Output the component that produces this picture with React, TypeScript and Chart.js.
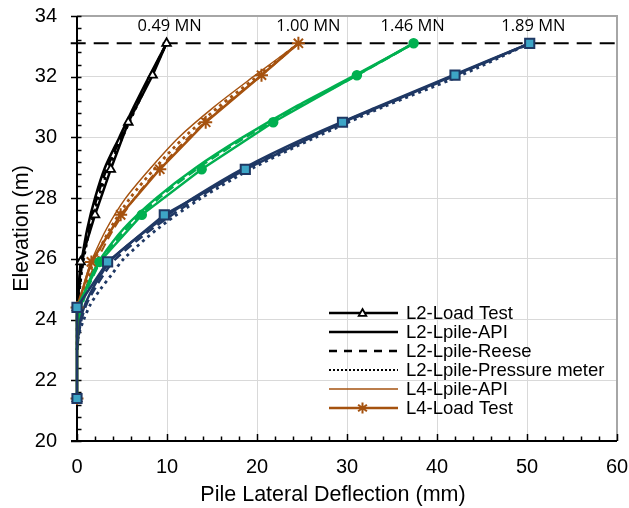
import React, { useEffect, useRef } from 'react';
import { Chart, registerables } from 'chart.js';

Chart.register(...registerables);

// ---------- data ----------
const LT_ELEV = [33.1, 32.05, 30.5, 28.95, 27.45, 25.9, 24.4, 21.4];
const L2_TEST = [9.95, 8.4, 5.7, 3.75, 2.0, 0.4, 0, 0];
const L4_TEST = [24.6, 20.5, 14.3, 9.2, 4.85, 1.6, 0, 0];
const G_TEST = [37.4, 31.1, 21.8, 13.85, 7.2, 2.5, 0, 0];
const N_TEST = [50.3, 42.0, 29.5, 18.7, 9.7, 3.4, 0, 0];

const LPILE_ELEV = [33.1, 32, 31, 30, 29, 28, 27, 26, 25.5, 25, 24.5, 24, 23.5, 23];
const L2_API = [9.95, 8.0, 6.3, 4.7, 3.1, 2.0, 1.15, 0.55, 0.35, 0.2, 0.08, 0, 0, 0];
const L2_REESE = [9.95, 8.1, 6.45, 4.9, 3.35, 2.2, 1.3, 0.65, 0.42, 0.24, 0.1, 0, 0, 0];
const L2_PM = [9.95, 8.2, 6.6, 5.05, 3.55, 2.4, 1.45, 0.75, 0.5, 0.3, 0.12, 0.02, 0, 0];
const L4_API = [24.6, 19.6, 15.2, 11.3, 8.2, 5.4, 3.3, 1.7, 1.1, 0.65, 0.3, 0.1, 0, 0];
const L4_REESE = [24.6, 20.3, 16.1, 12.4, 9.2, 6.4, 4.1, 2.3, 1.55, 0.95, 0.5, 0.2, 0.05, 0];
const L4_PM = [24.6, 20.0, 15.7, 11.9, 8.7, 5.9, 3.7, 2.0, 1.35, 0.8, 0.4, 0.15, 0.02, 0];
const G_API = [37.4, 30.6, 24.2, 18.4, 13.2, 8.8, 5.2, 2.6, 1.7, 1.0, 0.5, 0.2, 0.05, 0];
const G_REESE = [37.4, 30.8, 24.5, 18.7, 13.5, 9.1, 5.5, 2.8, 1.9, 1.15, 0.6, 0.25, 0.08, 0];
const N_API = [50.3, 41.4, 33.3, 25.5, 18.6, 12.9, 8.0, 3.9, 2.7, 1.7, 0.9, 0.4, 0.15, 0];
const N_REESE = [50.3, 41.7, 33.7, 25.9, 19.0, 13.4, 8.4, 4.3, 3.0, 1.95, 1.05, 0.5, 0.2, 0];
const N_PM = [50.3, 42.3, 34.0, 26.5, 19.6, 13.8, 9.0, 5.2, 3.9, 2.6, 1.5, 0.75, 0.2, 0];

const LOAD_ELEV = 33.1;
const LOAD_LINE_X = [-0.7, 60];
const LOAD_LABELS = ['0.49 MN', '1.00 MN', '1.46 MN', '1.89 MN'];
const LOAD_LABEL_X = [10.3, 25.7, 37.3, 50.7];
const LOAD_LABEL_Y = 33.65;

const X_TITLE = 'Pile Lateral Deflection (mm)';
const Y_TITLE = 'Elevation (m)';
const X_TICKS = { min: 0, max: 60, step: 10, minor: 2 };
const Y_TICKS = { min: 20, max: 34, step: 2, minor: 0.4 };

const LEGEND_ITEMS = [
  'L2-Load Test',
  'L2-Lpile-API',
  'L2-Lpile-Reese',
  'L2-Lpile-Pressure meter',
  'L4-Lpile-API',
  'L4-Load Test',
];

// ---------- styles ----------
const BLACK = '#000000';
const BROWN = '#A5520F';
const GREEN = '#00B050';
const NAVY = '#1F3864';
const SQUARE_FILL = '#3DA5C6';

const testPts = (xs: number[]) => xs.map((x, i) => ({ x, y: LT_ELEV[i] }));
const curvePts = (xs: number[]) => {
  const out: { x: number; y: number }[] = [];
  for (let i = 0; i < xs.length; i++) {
    out.push({ x: xs[i], y: LPILE_ELEV[i] });
    if (xs[i] === 0) break;
  }
  return out;
};

const lpile = (label: string, xs: number[], color: string, dash: number[], width: number, order: number) => ({
  label,
  data: curvePts(xs),
  borderColor: color,
  backgroundColor: color,
  borderWidth: width,
  borderDash: dash,
  pointRadius: 0,
  showLine: true,
  tension: 0.3,
  clip: false as any,
  order,
});

const DOT = [3, 4];
const DASH = [9, 5];

const datasets: any[] = [
  {
    label: 'L8-Load Test', data: testPts(N_TEST), borderColor: NAVY, backgroundColor: SQUARE_FILL,
    borderWidth: 2.5, pointStyle: 'rect', pointRadius: 6.5, pointBorderColor: NAVY, pointBorderWidth: 2,
    pointBackgroundColor: SQUARE_FILL, showLine: true, tension: 0, clip: false, order: 1,
  },
  {
    label: 'L6-Load Test', data: testPts(G_TEST), borderColor: GREEN, backgroundColor: GREEN,
    borderWidth: 2.5, pointStyle: 'circle', pointRadius: 4.5, pointBorderColor: GREEN, pointBorderWidth: 1.5,
    pointBackgroundColor: GREEN, showLine: true, tension: 0, clip: false, order: 2,
  },
  {
    label: 'L4-Load Test', data: testPts(L4_TEST), borderColor: BROWN, backgroundColor: BROWN,
    borderWidth: 2.5, pointStyle: 'star', pointRadius: 6.5, pointBorderColor: BROWN, pointBorderWidth: 2,
    showLine: true, tension: 0, clip: false, order: 3,
  },
  {
    label: 'L2-Load Test', data: testPts(L2_TEST), borderColor: BLACK, backgroundColor: '#ffffff',
    borderWidth: 2.5, pointStyle: 'triangle', pointRadius: 5, pointBorderColor: BLACK, pointBorderWidth: 1.8,
    pointBackgroundColor: '#ffffff', showLine: true, tension: 0, clip: false, order: 4,
  },
  lpile('L8-Lpile-API', N_API, NAVY, [], 2.5, 5),
  lpile('L8-Lpile-Reese', N_REESE, NAVY, DASH, 2.5, 5),
  lpile('L8-Lpile-Pressure meter', N_PM, NAVY, DOT, 2.8, 5),
  lpile('L6-Lpile-API', G_API, GREEN, [], 2.5, 6),
  lpile('L6-Lpile-Reese', G_REESE, GREEN, DASH, 2.5, 6),
  lpile('L4-Lpile-API', L4_API, BROWN, [], 1.5, 7),
  lpile('L4-Lpile-Reese', L4_REESE, BROWN, DASH, 2, 7),
  lpile('L4-Lpile-Pressure meter', L4_PM, BROWN, DOT, 2.8, 7),
  lpile('L2-Lpile-API', L2_API, BLACK, [], 2.5, 8),
  lpile('L2-Lpile-Reese', L2_REESE, BLACK, DASH, 2.5, 8),
  lpile('L2-Lpile-Pressure meter', L2_PM, BLACK, DOT, 2.5, 8),
  {
    label: 'Load level', data: LOAD_LINE_X.map((x) => ({ x, y: LOAD_ELEV })), borderColor: BLACK,
    borderWidth: 2, borderDash: [15, 8], pointRadius: 0, showLine: true, clip: false, order: 9,
  },
];

const LEGEND_STYLE: Record<string, { width: number; dash: number[] }> = {
  'L2-Load Test': { width: 2.5, dash: [] },
  'L2-Lpile-API': { width: 2.5, dash: [] },
  'L2-Lpile-Reese': { width: 2.5, dash: [8, 7] },
  'L2-Lpile-Pressure meter': { width: 2, dash: [2, 2] },
  'L4-Lpile-API': { width: 1.6, dash: [] },
  'L4-Load Test': { width: 2.5, dash: [] },
};

const decor = {
  id: 'decor',
  beforeDatasetsDraw(chart: any) {
    const { ctx, chartArea: a, scales } = chart;
    const xs = scales.x;
    const ys = scales.y;
    ctx.save();
    ctx.strokeStyle = '#A6A6A6';
    ctx.lineWidth = 2;
    ctx.beginPath();
    ctx.moveTo(a.left, a.top);
    ctx.lineTo(a.right, a.top);
    ctx.lineTo(a.right, a.bottom);
    ctx.stroke();
    ctx.strokeStyle = '#000';
    ctx.lineWidth = 2;
    ctx.beginPath();
    ctx.moveTo(a.left, a.top);
    ctx.lineTo(a.left, a.bottom);
    ctx.moveTo(a.left - 6, a.bottom);
    ctx.lineTo(a.right, a.bottom);
    ctx.stroke();
    ctx.lineWidth = 1.5;
    ctx.beginPath();
    for (let v = Y_TICKS.min; v <= Y_TICKS.max + 1e-6; v += Y_TICKS.minor) {
      const p = Math.round(ys.getPixelForValue(v)) + 0.5;
      const major = Math.abs(v / Y_TICKS.step - Math.round(v / Y_TICKS.step)) < 1e-6;
      ctx.moveTo(major ? a.left - 6 : a.left, p);
      ctx.lineTo(a.left + 4.5, p);
    }
    for (let v = X_TICKS.min; v <= X_TICKS.max + 1e-6; v += X_TICKS.minor) {
      const p = Math.round(xs.getPixelForValue(v)) + 0.5;
      const major = Math.abs(v / X_TICKS.step - Math.round(v / X_TICKS.step)) < 1e-6;
      ctx.moveTo(p, a.bottom);
      ctx.lineTo(p, a.bottom - (major ? 7 : 4.5));
    }
    ctx.stroke();
    ctx.restore();
  },
  afterDraw(chart: any) {
    const { ctx, scales, chartArea: a } = chart;
    ctx.save();
    ctx.fillStyle = '#000';
    ctx.textAlign = 'center';
    ctx.textBaseline = 'middle';
    // axis titles
    ctx.font = '21.5px "Liberation Sans"';
    ctx.fillText(X_TITLE, 333, 495);
    ctx.save();
    ctx.translate(22, (a.top + a.bottom) / 2);
    ctx.rotate(-Math.PI / 2);
    ctx.fillText(Y_TITLE, 0, 0);
    ctx.restore();
    // load labels
    ctx.font = '16.5px "Open Sans"';
    LOAD_LABELS.forEach((t, i) => {
      ctx.fillText(t, scales.x.getPixelForValue(LOAD_LABEL_X[i]), scales.y.getPixelForValue(LOAD_LABEL_Y));
    });
    // legend
    const x0 = 329, x1 = 398, tx = 406, y0 = 313, dy = 19;
    ctx.font = '18.5px "Liberation Sans"';
    ctx.textAlign = 'left';
    LEGEND_ITEMS.forEach((label, i) => {
      const ds = datasets.find((d) => d.label === label);
      const st = LEGEND_STYLE[label];
      const y = y0 + i * dy;
      ctx.strokeStyle = ds.borderColor;
      ctx.lineWidth = st.width;
      ctx.setLineDash(st.dash);
      ctx.beginPath();
      ctx.moveTo(x0, y);
      ctx.lineTo(x1, y);
      ctx.stroke();
      ctx.setLineDash([]);
      const cx = (x0 + x1) / 2 - 1;
      if (ds.pointStyle === 'triangle') {
        ctx.beginPath();
        ctx.moveTo(cx, y - 4);
        ctx.lineTo(cx + 3.8, y + 2.8);
        ctx.lineTo(cx - 3.8, y + 2.8);
        ctx.closePath();
        ctx.fillStyle = '#fff';
        ctx.fill();
        ctx.lineWidth = 1.8;
        ctx.stroke();
      } else if (ds.pointStyle === 'star') {
        ctx.lineWidth = 2;
        ctx.beginPath();
        const r = 5.5;
        ctx.moveTo(cx, y - r); ctx.lineTo(cx, y + r);
        ctx.moveTo(cx - r * 0.8, y - r * 0.6); ctx.lineTo(cx + r * 0.8, y + r * 0.6);
        ctx.moveTo(cx - r * 0.8, y + r * 0.6); ctx.lineTo(cx + r * 0.8, y - r * 0.6);
        ctx.stroke();
      }
      ctx.fillStyle = '#000';
      ctx.fillText(label, tx, y + 1);
    });
    ctx.restore();
  },
};

const transparentEdge = (edges: number[]) => (c: any) =>
  c.tick && edges.includes(c.tick.value) ? 'rgba(0,0,0,0)' : '#D9D9D9';

const zeroPad = (s: any) => {
  s.paddingTop = 0;
  s.paddingBottom = 0;
  s.paddingLeft = 0;
  s.paddingRight = 0;
};

export default function App() {
  const ref = useRef<HTMLCanvasElement>(null);
  useEffect(() => {
    Chart.defaults.font.family = '"Liberation Sans", Arial, sans-serif';
    const chart = new Chart(ref.current as HTMLCanvasElement, {
      type: 'scatter',
      data: { datasets },
      options: {
        animation: false,
        responsive: false,
        layout: { padding: { top: 16, right: 12, left: 0, bottom: 0 } },
        plugins: { legend: { display: false }, tooltip: { enabled: false } },
        scales: {
          x: {
            type: 'linear',
            min: X_TICKS.min,
            max: X_TICKS.max,
            afterFit: (s: any) => { s.height = 67; zeroPad(s); },
            ticks: { stepSize: X_TICKS.step, color: '#000', padding: 14, font: { size: 20 } },
            grid: { color: transparentEdge([X_TICKS.min, X_TICKS.max]), lineWidth: 1, drawTicks: false },
            border: { display: false },
            title: { display: false },
          },
          y: {
            type: 'linear',
            min: Y_TICKS.min,
            max: Y_TICKS.max,
            afterFit: (s: any) => { s.width = 77; zeroPad(s); },
            ticks: { stepSize: Y_TICKS.step, color: '#000', padding: 20, font: { size: 20 } },
            grid: { color: transparentEdge([Y_TICKS.min, Y_TICKS.max]), lineWidth: 1, drawTicks: false },
            border: { display: false },
            title: { display: false },
          },
        },
      } as any,
      plugins: [decor],
    });
    return () => chart.destroy();
  }, []);
  return (
    <div style={{ position: 'absolute', left: 0, top: 0, width: 629, height: 508, background: '#fff' }}>
      <canvas ref={ref} width={629} height={508} style={{ display: 'block' }} />
    </div>
  );
}
